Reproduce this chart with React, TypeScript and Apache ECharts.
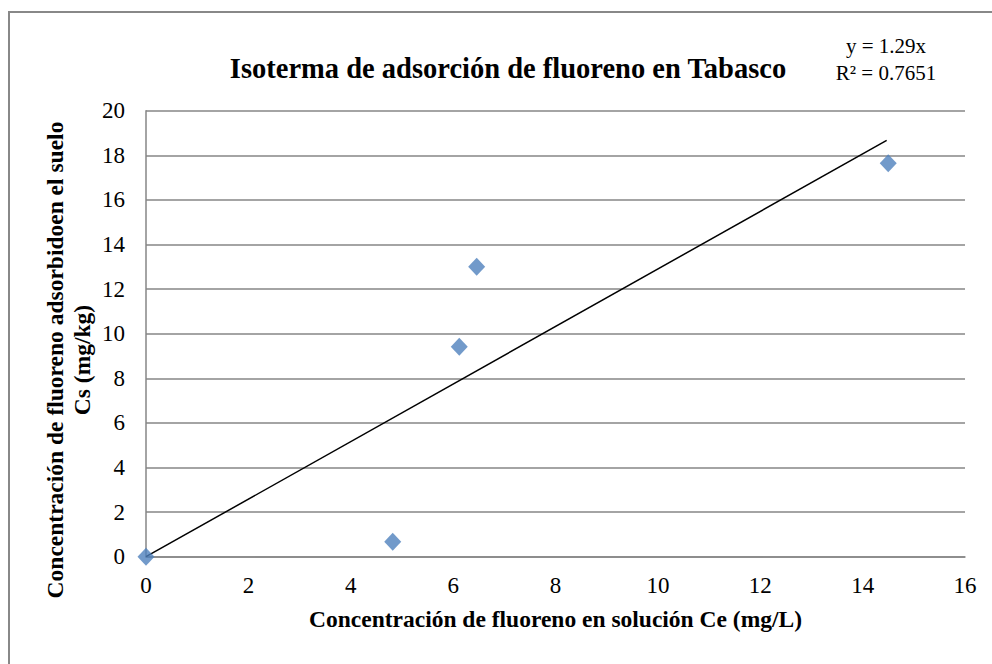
import React, { useEffect, useRef } from "react";
import * as echarts from "echarts";

const ceValues = [0.0, 4.82, 6.12, 6.46, 14.5];
const csValues = [0.0, 0.67, 9.42, 13.0, 17.64];
const trendX = [0, 14.47];
const trendY = [0, 18.67];
const xTicks = [0, 2, 4, 6, 8, 10, 12, 14, 16];
const yTicks = [0, 2, 4, 6, 8, 10, 12, 14, 16, 18, 20];
const titleText = "Isoterma de adsorción de fluoreno en Tabasco";
const xTitle = "Concentración de fluoreno en solución Ce (mg/L)";
const yTitle = "Concentración de fluoreno adsorbidoen el suelo\nCs (mg/kg)";
const eqLines = ["y = 1.29x", "R² = 0.7651"];

const FONT = "Liberation Serif";

export default function App() {
  const ref = useRef<HTMLDivElement>(null);
  useEffect(() => {
    document.body.style.margin = "0";
    const chart = echarts.init(ref.current!, null, { renderer: "svg" });
    const points = ceValues.map((x, i) => [x, csValues[i]]);
    const trend = trendX.map((x, i) => [x, trendY[i]]);
    const tickRich = { t: { fontFamily: FONT, fontSize: 23, color: "#000" } };
    chart.setOption({
      animation: false,
      backgroundColor: "#ffffff",
      textStyle: { fontFamily: FONT },
      title: {
        text: titleText,
        left: 503,
        top: 49,
        textAlign: "center",
        textStyle: { fontFamily: FONT, fontWeight: "bold", fontSize: 28.5, color: "#000" },
      },
      graphic: [
        {
          type: "rect",
          shape: { x: 9, y: 12, width: 1100, height: 800 },
          style: { fill: "none", stroke: "#888888", lineWidth: 2 },
          silent: true,
        },
        {
          type: "text",
          x: 886,
          y: 46,
          style: {
            text: eqLines[0],
            fontFamily: FONT,
            fontSize: 21,
            fill: "#000",
            align: "center",
            verticalAlign: "middle",
          },
        },
        {
          type: "text",
          x: 886,
          y: 73,
          style: {
            text: eqLines[1],
            fontFamily: FONT,
            fontSize: 21,
            fill: "#000",
            align: "center",
            verticalAlign: "middle",
          },
        },
        {
          type: "text",
          x: 68,
          y: 360,
          rotation: Math.PI / 2,
          style: {
            text: yTitle,
            fontFamily: FONT,
            fontWeight: "bold",
            fontSize: 23.5,
            lineHeight: 27,
            fill: "#000",
            align: "center",
            verticalAlign: "middle",
          },
        },
      ],
      grid: { left: 146, right: 27, top: 110.7, bottom: 107.3, containLabel: false },
      xAxis: {
        type: "value",
        min: xTicks[0],
        max: xTicks[xTicks.length - 1],
        interval: 2,
        name: xTitle,
        nameLocation: "middle",
        nameGap: 50,
        nameTextStyle: { fontFamily: FONT, fontWeight: "bold", fontSize: 23.5, color: "#000" },
        axisLine: { show: true, onZero: false, lineStyle: { color: "#868686", width: 1.5 } },
        axisTick: { show: false },
        splitLine: { show: false },
        axisLabel: {
          fontFamily: FONT,
          fontSize: 23,
          color: "#000",
          margin: 17,
          formatter: "{t|{value}}",
          rich: tickRich,
        },
      },
      yAxis: {
        type: "value",
        min: yTicks[0],
        max: yTicks[yTicks.length - 1],
        interval: 2,
        axisLine: { show: true, lineStyle: { color: "#868686", width: 1.5 } },
        axisTick: { show: false },
        splitLine: { show: true, lineStyle: { color: "#868686", width: 1.5 } },
        axisLabel: {
          fontFamily: FONT,
          fontSize: 23,
          color: "#000",
          margin: 21,
          formatter: "{t|{value}}",
          rich: tickRich,
        },
      },
      series: [
        {
          type: "line",
          data: trend,
          symbol: "none",
          lineStyle: { color: "#000", width: 1.5 },
          z: 3,
        },
        {
          type: "scatter",
          data: points,
          symbol: "diamond",
          symbolSize: [17, 18],
          itemStyle: { color: "#4F81BD" },
          z: 4,
        },
      ],
    });
    return () => chart.dispose();
  }, []);
  return <div ref={ref} style={{ width: 992, height: 664 }} />;
}
